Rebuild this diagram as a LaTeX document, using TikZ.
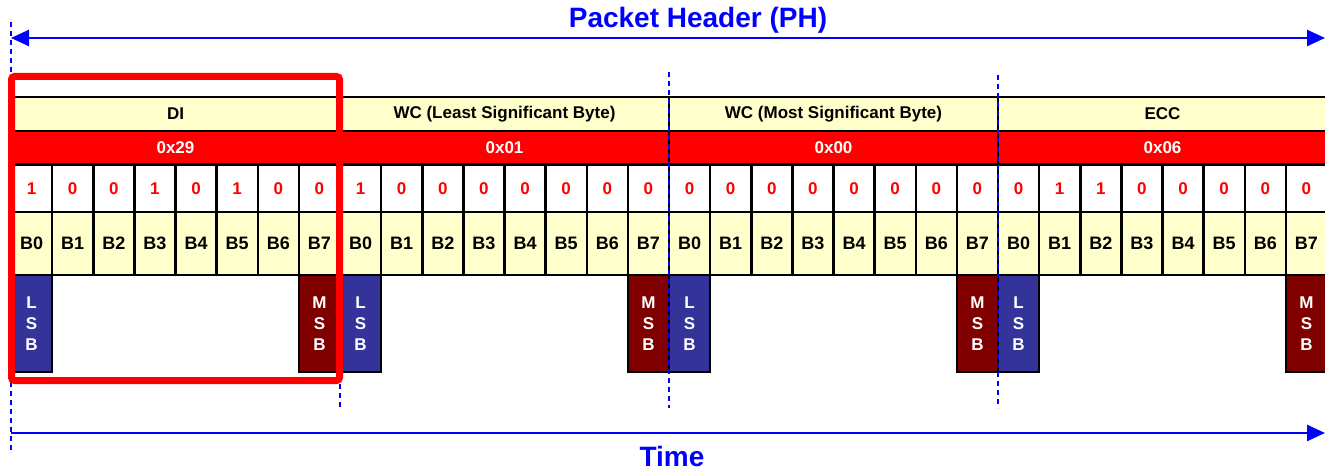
\documentclass[tikz,border=0pt]{standalone}
\usepackage{fontspec}
\setmainfont{Liberation Sans}
\usetikzlibrary{arrows.meta,positioning}
\definecolor{cellyellow}{HTML}{FFFFCC}
\definecolor{lsbblue}{HTML}{333399}
\definecolor{msbred}{HTML}{800000}
\definecolor{hexred}{HTML}{FF0000}
\definecolor{guideblue}{HTML}{0000FF}

\begin{document}
\begin{tikzpicture}[x=1pt, y=-1pt,
  cellbase/.style={draw=black, line width=2.5pt, inner sep=0pt, outer sep=0pt, anchor=north west, font=\bfseries\fontsize{17}{17}\selectfont},
  hdrcell/.style={cellbase, fill=cellyellow, minimum width=329pt, minimum height=34pt},
  hexcell/.style={cellbase, fill=hexred, text=white, minimum width=329pt, minimum height=33pt},
  bitcell/.style={cellbase, fill=white, text=hexred, minimum width=41.125pt, minimum height=47pt},
  namecell/.style={cellbase, fill=cellyellow, minimum width=41.125pt, minimum height=63pt, font=\bfseries\fontsize{18}{18}\selectfont},
  lsbbox/.style={cellbase, fill=lsbblue, text=white, minimum width=41.125pt, minimum height=97pt, align=center, font=\bfseries\fontsize{17}{21}\selectfont},
  msbbox/.style={lsbbox, fill=msbred},
  guide/.style={guideblue, line width=2.5pt, dash pattern=on 5pt off 4pt},
  redframe/.style={hexred, line width=7pt, rounded corners=3pt},
  span/.style={guideblue, line width=2.5pt},
  caption/.style={text=guideblue, font=\bfseries\fontsize{28}{28}\selectfont, inner sep=0pt}
]
\useasboundingbox (0,0) rectangle (1325,470);

% byte fields
\foreach \name/\hex [count=\k from 0] in {DI/0x29, WC (Least Significant Byte)/0x01, WC (Most Significant Byte)/0x00, ECC/0x06}{
  \node[hdrcell] (hdr\k) at ({11+329*\k},97) {\name};
  \node[hexcell] (hex\k) at ({11+329*\k},131) {\hex};
}

% bits, LSB first
\foreach \v [count=\i from 0] in {1,0,0,1,0,1,0,0, 1,0,0,0,0,0,0,0, 0,0,0,0,0,0,0,0, 0,1,1,0,0,0,0,0}{
  \pgfmathsetmacro{\xx}{11+\i*41.125}
  \pgfmathtruncatemacro{\bn}{mod(\i,8)}
  \node[bitcell] (bit\i) at (\xx,165) {\v};
  \node[namecell] (name\i) at (\xx,212) {B\bn};
}

% LSB / MSB markers
\foreach \k in {0,...,3}{
  \node[lsbbox] (lsb\k) at ({11+329*\k},275) {L\\S\\B};
  \node[msbbox] (msb\k) at ({11+329*\k+7*41.125},275) {M\\S\\B};
}

% byte boundaries
\foreach \x/\top/\bot in {11/22/452, 340/384/408, 669/72/408, 998/75/408}
  \draw[guide] (\x,\top) -- (\x,\bot);

\draw[redframe] (11.5,76.5) rectangle (339.5,380.5);

% packet header span
\coordinate (phL) at (11,38);
\coordinate (phR) at (1325,38);
\draw[span, {Triangle[length=18pt,width=16pt]}-{Triangle[length=18pt,width=16pt]}] (phL) -- (phR);
\node[caption] (ph) at (698,20) {Packet Header (PH)};

% time axis
\coordinate (tL) at (11,433);
\coordinate (tR) at (1325,433);
\draw[span, -{Triangle[length=18pt,width=16pt]}] (tL) -- (tR);
\node[caption] (time) at (672,456) {Time};
\end{tikzpicture}
\end{document}
